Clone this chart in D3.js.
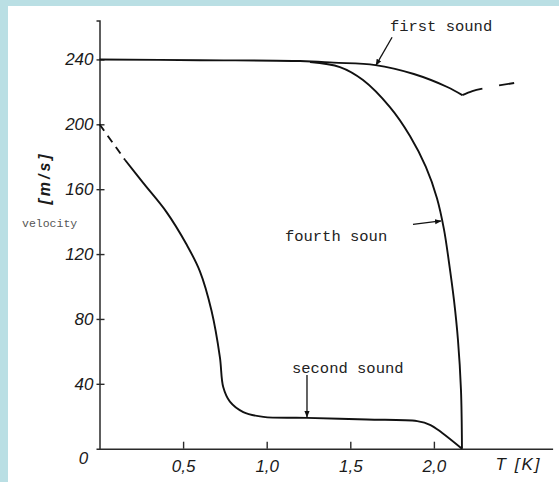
<!DOCTYPE html>
<html>
<head>
<meta charset="utf-8">
<script src="https://cdn.jsdelivr.net/npm/d3@7"></script>
<style>
  html, body { margin: 0; padding: 0; background: #badfe4; }
  svg { display: block; }
  .tick text { font-family: "Liberation Sans", Arial, sans-serif; font-style: italic; font-size: 17px; fill: #1a1a1a; }
  .mono { font-family: "Courier New", "Liberation Mono", monospace; }
</style>
</head>
<body>
<svg id="chart" width="559" height="482"></svg>
<script>
// ---- data ----
const yTicks = [40, 80, 120, 160, 200, 240];
const yTickLabels = ["40", "80", "120", "160", "200", "240"];
const xTicks = [0.5, 1.0, 1.5, 2.0];
const xTickLabels = ["0,5", "1,0", "1,5", "2,0"];

// first sound
const firstT = [0, 0.6, 1.2, 1.4, 1.65, 1.88, 2.08, 2.17];
const firstV = [240, 239.5, 239, 238, 236.5, 231, 223, 218];
const firstTailT = [2.17, 2.23, 2.29];
const firstTailV = [218, 220.5, 222];
const firstDashT = [2.39, 2.48];
const firstDashV = [224, 225.5];

// fourth sound
const fourthT = [1.259, 1.438, 1.576, 1.737, 1.857, 1.952, 2.018, 2.060, 2.090, 2.120, 2.144, 2.162, 2.168];
const fourthV = [238.4, 235.3, 227.3, 210.6, 192.8, 173.7, 154.6, 135.4, 115.1, 91.7, 67.0, 36.2, 0];

// second sound
const secondDashT = [0, 0.153];
const secondDashV = [200, 178];
const secondT = [0.153, 0.26, 0.40, 0.52, 0.60, 0.67, 0.72, 0.74, 0.78, 0.86, 0.98, 1.24, 1.6, 1.90, 1.98, 2.05, 2.168];
const secondV = [178, 164, 146, 126, 109.5, 85, 56.5, 38, 29, 22.6, 19.6, 19, 18, 17, 14.6, 9.7, 0];

// annotations (text, label anchor, arrow from -> to, all in data units)
const labelTexts = ["first sound", "fourth soun", "second sound"];
const labelT = [1.737, 1.109, 1.151];
const labelV = [261, 131.6, 49.8];
const arrowFromT = [1.75, 1.875, 1.241];
const arrowFromV = [253.7, 138.3, 45.4];
const arrowToT = [1.654, 2.042, 1.241];
const arrowToV = [236.5, 140.4, 19.6];

// ---- drawing ----
const svg = d3.select("#chart");
svg.append("rect").attr("x", 8).attr("y", 6).attr("width", 551).attr("height", 476).attr("fill", "#ffffff");

const x = d3.scaleLinear().domain([0, 2.71]).range([99.5, 552.6]);
const y = d3.scaleLinear().domain([0, 264]).range([448.7, 20.5]);

const zip = (ts, vs) => ts.map((t, i) => [t, vs[i]]);
const line = d3.line().x(d => x(d[0])).y(d => y(d[1])).curve(d3.curveCatmullRom.alpha(0.5));
const straight = d3.line().x(d => x(d[0])).y(d => y(d[1]));

// y axis
const yAxis = d3.axisLeft(y).tickValues(yTicks).tickFormat((d, i) => yTickLabels[i]).tickSize(3).tickPadding(3);
const gy = svg.append("g").attr("transform", `translate(${x(0)},0)`).call(yAxis);
gy.select(".domain").attr("stroke", "#2a2a2a").attr("stroke-width", 1.5);
gy.selectAll(".tick line").attr("x1", 5).attr("x2", -3).attr("stroke", "#2a2a2a").attr("stroke-width", 1.4);

// x axis
const xAxis = d3.axisBottom(x).tickValues(xTicks).tickFormat((d, i) => xTickLabels[i]).tickSize(0).tickPadding(8);
const gx = svg.append("g").attr("transform", `translate(0,${y(0)})`).call(xAxis);
gx.select(".domain").attr("stroke", "#2a2a2a").attr("stroke-width", 1.5);
gx.selectAll(".tick line").attr("y1", 0).attr("y2", -7).attr("stroke", "#2a2a2a").attr("stroke-width", 1.4);
gx.selectAll(".tick text").attr("dy", "0.9em");

// origin label "0"
svg.append("text").attr("x", x(0) - 16).attr("y", y(0) + 15)
  .attr("text-anchor", "middle")
  .style("font-family", "Liberation Sans, Arial, sans-serif").style("font-style", "italic").style("font-size", "17px").attr("fill", "#1a1a1a")
  .text("0");

// axis titles
svg.append("text").attr("x", x(2.71) - 57).attr("y", y(0) + 21)
  .style("font-family", "Liberation Sans, Arial, sans-serif").style("font-style", "italic").style("font-size", "17px").attr("fill", "#1a1a1a")
  .attr("letter-spacing", "2px").text("T [K]");

svg.append("text").attr("transform", `translate(50,178) rotate(-90)`)
  .attr("text-anchor", "middle")
  .style("font-family", "Liberation Sans, Arial, sans-serif").style("font-style", "italic").style("font-weight", "bold").style("font-size", "16px").attr("fill", "#1a1a1a")
  .attr("letter-spacing", "3px").text("[m/s]");

svg.append("text").attr("x", 22).attr("y", 227).attr("class", "mono")
  .style("font-size", "11.5px").attr("fill", "#555").text("velocity");

// curves
const curveStyle = sel => sel.attr("fill", "none").attr("stroke", "#111").attr("stroke-width", 1.9);
curveStyle(svg.append("path").attr("d", line(zip(firstT, firstV))));
curveStyle(svg.append("path").attr("d", line(zip(firstTailT, firstTailV))));
curveStyle(svg.append("path").attr("d", straight(zip(firstDashT, firstDashV))));
curveStyle(svg.append("path").attr("d", line(zip(fourthT, fourthV))));
curveStyle(svg.append("path").attr("d", straight(zip(secondDashT, secondDashV))).attr("stroke-dasharray", "8,6"));
curveStyle(svg.append("path").attr("d", line(zip(secondT, secondV))));

// arrow marker
svg.append("defs").append("marker").attr("id", "ah")
  .attr("viewBox", "0 0 10 10").attr("refX", 9).attr("refY", 5)
  .attr("markerWidth", 5).attr("markerHeight", 5).attr("orient", "auto")
  .append("path").attr("d", "M0,1 L10,5 L0,9 Z").attr("fill", "#111");

// annotations
labelTexts.forEach((txt, i) => {
  svg.append("text").attr("x", x(labelT[i])).attr("y", y(labelV[i])).attr("dy", "0.35em")
    .attr("class", "mono").style("font-size", "15.5px").attr("fill", "#222").text(txt);
  svg.append("line")
    .attr("x1", x(arrowFromT[i])).attr("y1", y(arrowFromV[i]))
    .attr("x2", x(arrowToT[i])).attr("y2", y(arrowToV[i]))
    .attr("stroke", "#111").attr("stroke-width", 1.3).attr("marker-end", "url(#ah)");
});
</script>
</body>
</html>
